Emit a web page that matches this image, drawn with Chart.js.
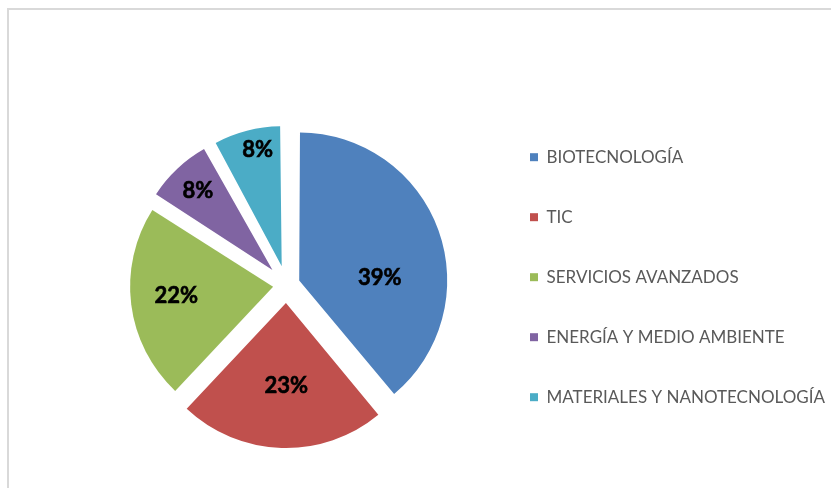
<!DOCTYPE html>
<html>
<head>
    <title>Sectores</title>
    <script src="https://cdn.jsdelivr.net/npm/chart.js"></script>
    <style>
        html, body { margin: 0; padding: 0; background: #fff; overflow: hidden; }
        #frame { position: absolute; left: 7px; top: 8px; width: 900px; height: 600px; border: 2px solid #d9d9d9; }
        #wrap { position: absolute; left: 0; top: 0; width: 831px; height: 488px; }
    </style>
</head>
<body>
    <div id="frame"></div>
    <div id="wrap"><canvas id="pieChart"></canvas></div>
    <script type="text/javascript">
        var sectors = ['BIOTECNOLOGÍA', 'TIC', 'SERVICIOS AVANZADOS', 'ENERGÍA Y MEDIO AMBIENTE', 'MATERIALES Y NANOTECNOLOGÍA'];
        var shares = [39, 23, 22, 8, 8];
        var colors = ['#4f81bd', '#c0504d', '#9bbb59', '#8064a2', '#4bacc6'];

        var pieRadius = 144;
        var sliceRadius = [148, 145, 143, 139, 140];
        var explode = [54, 72, 54, 82, 77]; // chart.js moves a slice by offset/4
        // where each % label sits: [fraction along the slice angle, fraction of radius]
        var labelPlace = [[0.61, 0.65], [0.48, 0.7], [0.52, 0.77], [0.5, 0.9], [0.58, 0.96]];

        // chart.js grows narrow exploded slices, set each slice's size back
        var evenRadius = {
            id: 'evenRadius',
            afterDatasetsUpdate: function(chart) {
                chart.getDatasetMeta(0).data.forEach(function(arc, i) {
                    var circ = arc.endAngle - arc.startAngle;
                    var fix = 1 - Math.sin(Math.min(Math.PI, circ));
                    arc.outerRadius = sliceRadius[i] - (explode[i] / 4) * fix;
                });
            }
        };

        var pctLabels = {
            id: 'pctLabels',
            afterDatasetsDraw: function(chart) {
                var ctx = chart.ctx;
                var meta = chart.getDatasetMeta(0);
                ctx.save();
                ctx.font = 'bold 22px Lato';
                ctx.fillStyle = '#000';
                ctx.strokeStyle = '#000';
                ctx.lineWidth = 0.6;
                ctx.textAlign = 'center';
                ctx.textBaseline = 'middle';
                meta.data.forEach(function(arc, i) {
                    var a = arc.startAngle + (arc.endAngle - arc.startAngle) * labelPlace[i][0];
                    var r = pieRadius * labelPlace[i][1];
                    var x = arc.x + Math.cos(a) * r, y = arc.y + Math.sin(a) * r;
                    ctx.fillText(shares[i] + '%', x, y);
                    ctx.strokeText(shares[i] + '%', x, y);
                });
                ctx.restore();
            }
        };

        var ctx = document.getElementById('pieChart').getContext('2d');
        var chart = new Chart(ctx, {
            type: 'pie',
            data: {
                labels: sectors,
                datasets: [{
                    data: shares,
                    backgroundColor: colors,
                    borderWidth: 0,
                    offset: explode,
                    hoverOffset: 0,
                    radius: pieRadius
                }]
            },
            options: {
                responsive: true,
                maintainAspectRatio: false,
                animation: false,
                events: [],
                layout: { padding: { left: 86, top: 82, right: 0, bottom: 0 } },
                plugins: {
                    tooltip: { enabled: false },
                    legend: {
                        position: 'right',
                        maxWidth: 344,
                        title: { display: true, text: '', padding: { top: -30, bottom: 0 } },
                        labels: {
                            boxWidth: 8,
                            boxHeight: 8,
                            padding: 43,
                            color: '#595959',
                            font: { family: 'Lato', size: 17 }
                        }
                    }
                }
            },
            plugins: [evenRadius, pctLabels]
        });
    </script>
</body>
</html>
